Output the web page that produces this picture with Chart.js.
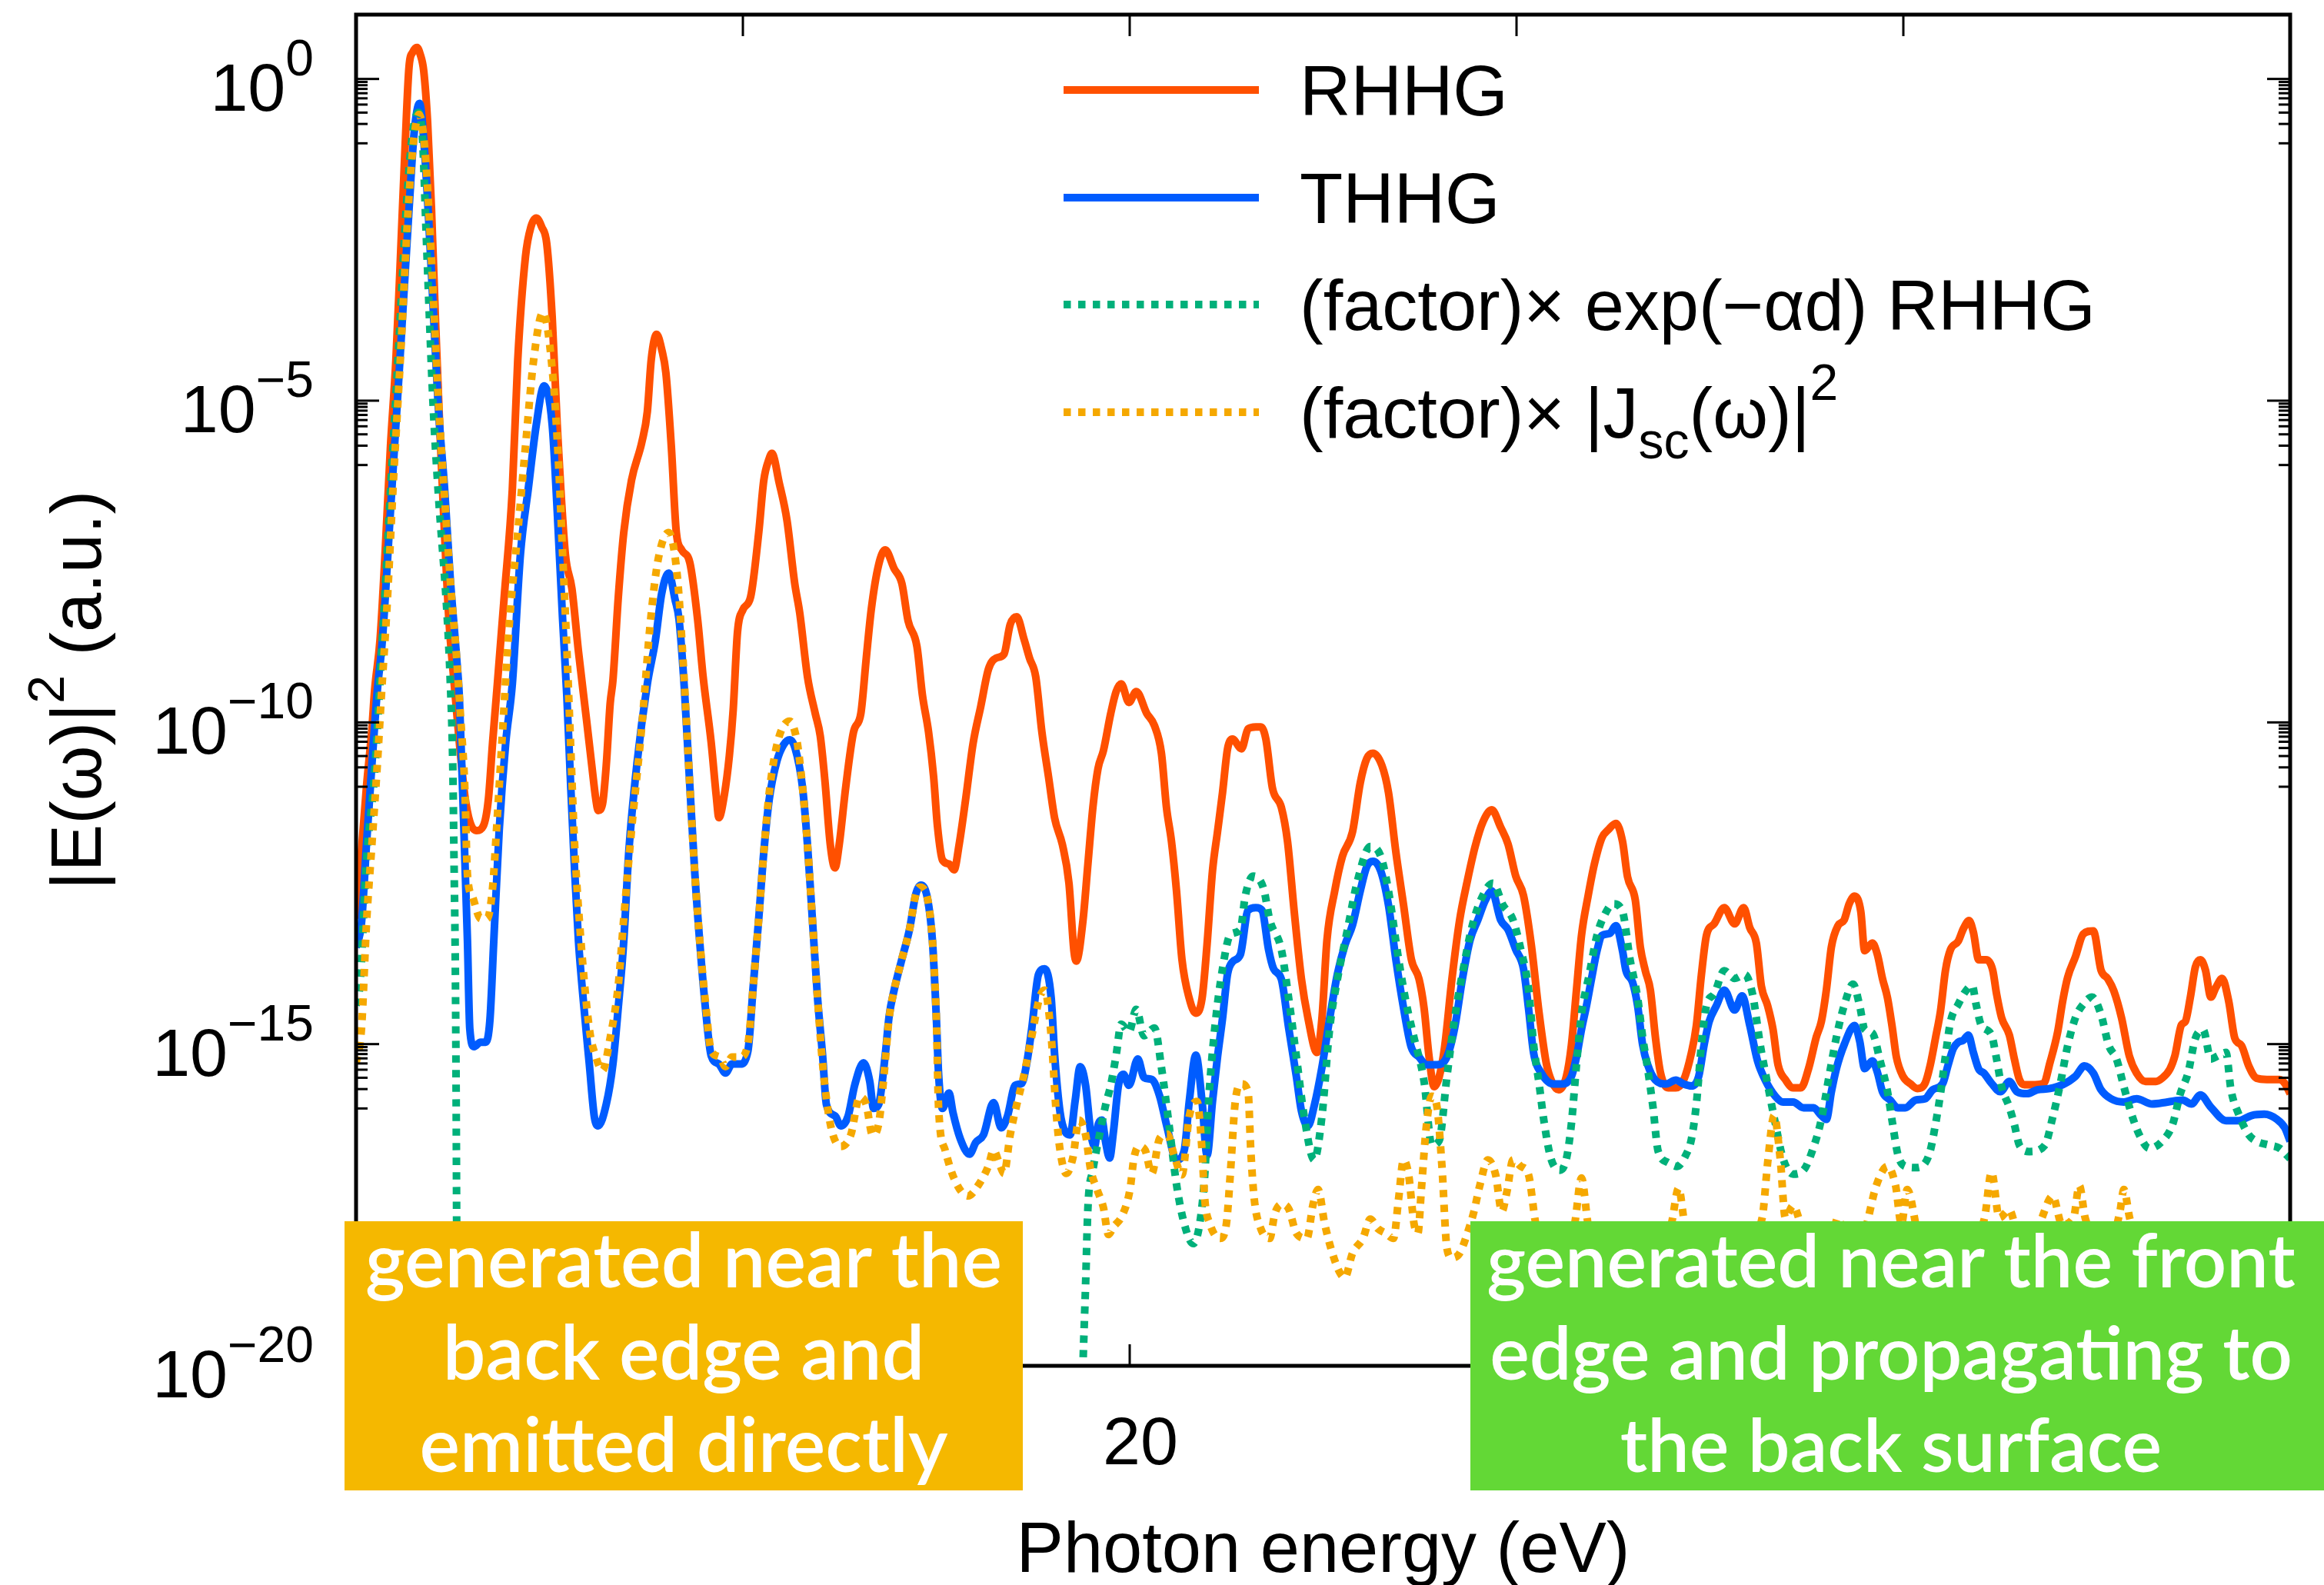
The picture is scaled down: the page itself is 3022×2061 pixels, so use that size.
<!DOCTYPE html>
<html><head><meta charset="utf-8">
<script src="https://cdn.jsdelivr.net/npm/chart.js@4.4.1/dist/chart.umd.min.js"></script>
<style>html,body{margin:0;padding:0;background:#fff;overflow:hidden}canvas{display:block}</style>
</head><body>
<canvas id="c" width="3022" height="2061" style="width:3022px;height:2061px"></canvas>
<script>
// ---- DATA: [photon energy (eV), log10 |E(w)|^2 (a.u.)] ----
const rhhgPoints = [[0,-13.05],[0.14,-12.0],[0.27,-11.0],[0.41,-10.1],[0.48,-9.5],[0.62,-8.72],[0.75,-7.38],[0.89,-5.71],[1.03,-4.37],[1.13,-3.03],[1.27,-1.02],[1.37,0.19],[1.47,0.42],[1.575,0.49],[1.66,0.38],[1.75,0.12],[1.85,-0.68],[1.95,-2.02],[2.05,-3.7],[2.16,-5.37],[2.26,-6.71],[2.40,-8.4],[2.53,-9.35],[2.67,-10.31],[2.81,-11.13],[2.94,-11.54],[3.12,-11.68],[3.29,-11.61],[3.42,-11.2],[3.53,-10.31],[3.66,-9.35],[3.83,-8.05],[4.04,-6.38],[4.18,-4.37],[4.38,-2.76],[4.52,-2.3],[4.66,-2.16],[4.80,-2.3],[4.93,-2.56],[5.07,-3.7],[5.20,-5.37],[5.41,-7.38],[5.58,-7.92],[5.75,-8.9],[5.96,-9.97],[6.09,-10.65],[6.20,-11.2],[6.26,-11.37],[6.37,-11.27],[6.47,-10.65],[6.57,-9.7],[6.64,-9.35],[6.78,-8.05],[6.92,-7.05],[7.12,-6.24],[7.39,-5.64],[7.53,-5.17],[7.63,-4.37],[7.77,-3.97],[7.90,-4.2],[8.01,-4.57],[8.15,-5.71],[8.28,-7.05],[8.42,-7.32],[8.63,-7.52],[8.83,-8.4],[8.97,-9.28],[9.18,-10.31],[9.31,-11.13],[9.38,-11.48],[9.52,-11.13],[9.65,-10.52],[9.75,-9.8],[9.86,-8.6],[10.0,-8.25],[10.2,-8.05],[10.41,-7.05],[10.54,-6.24],[10.68,-5.9],[10.75,-5.82],[10.94,-6.28],[11.14,-6.86],[11.34,-7.84],[11.47,-8.3],[11.67,-9.29],[11.87,-9.86],[12.0,-10.21],[12.12,-10.9],[12.26,-11.9],[12.38,-12.26],[12.49,-11.9],[12.66,-11.0],[12.86,-10.15],[13.05,-9.86],[13.19,-9.0],[13.32,-8.24],[13.51,-7.55],[13.68,-7.32],[13.91,-7.61],[14.11,-7.84],[14.27,-8.42],[14.50,-8.82],[14.64,-9.57],[14.80,-10.15],[14.93,-10.84],[15.03,-11.61],[15.16,-12.14],[15.33,-12.2],[15.46,-12.29],[15.59,-11.9],[15.76,-11.19],[15.95,-10.33],[16.15,-9.75],[16.35,-9.17],[16.55,-9.0],[16.75,-8.94],[16.91,-8.48],[17.08,-8.36],[17.27,-8.71],[17.41,-9.0],[17.57,-9.29],[17.73,-10.15],[17.90,-10.84],[18.06,-11.49],[18.26,-11.9],[18.43,-12.5],[18.56,-13.56],[18.62,-13.71],[18.79,-13.09],[18.92,-12.2],[19.05,-11.31],[19.18,-10.72],[19.32,-10.44],[19.51,-9.86],[19.65,-9.52],[19.78,-9.4],[19.98,-9.69],[20.17,-9.52],[20.44,-9.86],[20.64,-10.05],[20.82,-10.48],[20.95,-11.32],[21.08,-11.85],[21.21,-12.62],[21.35,-13.68],[21.54,-14.29],[21.71,-14.52],[21.87,-14.29],[22.00,-13.45],[22.14,-12.31],[22.27,-11.70],[22.40,-11.09],[22.53,-10.41],[22.66,-10.26],[22.89,-10.41],[23.06,-10.10],[23.26,-10.07],[23.39,-10.07],[23.52,-10.26],[23.69,-11.02],[23.92,-11.32],[24.08,-11.85],[24.25,-12.92],[24.44,-13.99],[24.61,-14.60],[24.84,-15.13],[24.97,-14.60],[25.10,-13.38],[25.30,-12.62],[25.50,-12.08],[25.76,-11.70],[25.96,-10.94],[26.13,-10.56],[26.29,-10.48],[26.52,-10.67],[26.69,-11.09],[26.88,-12.01],[27.08,-12.84],[27.28,-13.68],[27.48,-13.99],[27.61,-14.44],[27.74,-15.20],[27.87,-15.66],[28.00,-15.51],[28.14,-15.05],[28.33,-13.99],[28.53,-13.07],[28.73,-12.46],[28.93,-11.93],[29.13,-11.55],[29.36,-11.36],[29.59,-11.63],[29.78,-11.89],[29.98,-12.39],[30.18,-12.69],[30.38,-13.45],[30.58,-14.5],[30.77,-15.3],[30.91,-15.58],[31.09,-15.71],[31.29,-15.50],[31.42,-15.01],[31.55,-14.16],[31.68,-13.31],[31.85,-12.70],[32.01,-12.21],[32.21,-11.79],[32.37,-11.67],[32.57,-11.57],[32.74,-11.85],[32.87,-12.40],[33.07,-12.76],[33.20,-13.49],[33.33,-13.86],[33.46,-14.16],[33.59,-14.89],[33.72,-15.44],[33.92,-15.68],[34.12,-15.68],[34.32,-15.56],[34.52,-15.14],[34.65,-14.71],[34.78,-13.92],[34.91,-13.31],[35.11,-13.13],[35.37,-12.88],[35.64,-13.13],[35.87,-12.88],[36.03,-13.19],[36.20,-13.43],[36.33,-14.10],[36.49,-14.40],[36.63,-14.77],[36.76,-15.32],[36.96,-15.56],[37.15,-15.68],[37.35,-15.68],[37.55,-15.38],[37.75,-14.89],[37.88,-14.65],[38.01,-14.16],[38.14,-13.49],[38.31,-13.16],[38.47,-13.07],[38.60,-12.82],[38.74,-12.70],[38.90,-12.94],[39.00,-13.55],[39.20,-13.43],[39.33,-13.61],[39.46,-13.98],[39.59,-14.28],[39.72,-14.77],[39.82,-15.20],[39.99,-15.50],[40.19,-15.62],[40.36,-15.69],[40.56,-15.61],[40.69,-15.34],[40.83,-14.91],[40.96,-14.49],[41.09,-13.85],[41.22,-13.53],[41.42,-13.40],[41.55,-13.21],[41.70,-13.08],[41.81,-13.26],[41.95,-13.69],[42.14,-13.69],[42.31,-13.85],[42.41,-14.22],[42.54,-14.59],[42.74,-14.86],[42.87,-15.23],[43.00,-15.55],[43.13,-15.63],[43.40,-15.63],[43.63,-15.61],[43.79,-15.29],[43.99,-14.81],[44.12,-14.33],[44.25,-13.96],[44.45,-13.64],[44.65,-13.29],[44.91,-13.24],[45.11,-13.85],[45.28,-13.98],[45.44,-14.17],[45.64,-14.59],[45.84,-15.18],[46.03,-15.45],[46.26,-15.58],[46.53,-15.58],[46.69,-15.53],[46.89,-15.39],[47.02,-15.18],[47.19,-14.70],[47.29,-14.65],[47.42,-14.27],[47.55,-13.80],[47.68,-13.69],[47.81,-13.85],[47.95,-14.27],[48.08,-14.12],[48.24,-13.98],[48.41,-14.33],[48.57,-14.91],[48.74,-15.02],[48.93,-15.34],[49.13,-15.53],[49.40,-15.55],[49.73,-15.55],[49.86,-15.61],[50.0,-15.77]];

const thhgPoints = [[0,-13.5],[0.14,-13.12],[0.27,-11.89],[0.41,-10.65],[0.55,-9.5],[0.68,-8.72],[0.89,-6.71],[1.10,-4.7],[1.37,-2.02],[1.50,-0.85],[1.64,-0.38],[1.78,-1.2],[1.95,-3.03],[2.12,-5.04],[2.29,-6.38],[2.43,-7.72],[2.60,-9.0],[2.67,-9.6],[2.77,-11.34],[2.88,-13.4],[2.94,-14.76],[3.05,-15.04],[3.22,-14.97],[3.35,-14.97],[3.46,-14.63],[3.56,-13.4],[3.70,-11.68],[3.87,-10.31],[4.04,-9.4],[4.25,-7.38],[4.45,-6.38],[4.66,-5.37],[4.86,-4.77],[5.07,-5.37],[5.20,-6.71],[5.34,-8.4],[5.45,-9.6],[5.55,-11.0],[5.65,-12.3],[5.75,-13.4],[5.89,-14.42],[6.03,-15.31],[6.16,-16.13],[6.26,-16.27],[6.47,-15.93],[6.64,-15.31],[6.78,-14.42],[6.92,-13.4],[7.05,-12.02],[7.26,-10.65],[7.53,-9.4],[7.74,-8.72],[7.90,-8.0],[8.08,-7.68],[8.25,-8.1],[8.35,-8.4],[8.49,-9.5],[8.63,-11.0],[8.76,-12.37],[8.90,-13.53],[9.04,-14.49],[9.18,-15.18],[9.38,-15.31],[9.55,-15.45],[9.72,-15.31],[9.93,-15.31],[10.13,-15.11],[10.27,-14.08],[10.41,-13.05],[10.54,-12.02],[10.68,-11.2],[10.88,-10.6],[11.05,-10.35],[11.21,-10.27],[11.35,-10.4],[11.54,-11.0],[11.67,-11.9],[11.80,-13.09],[11.93,-14.28],[12.06,-15.17],[12.16,-15.94],[12.39,-16.12],[12.53,-16.27],[12.72,-16.12],[12.89,-15.64],[13.12,-15.29],[13.28,-15.58],[13.38,-16.0],[13.51,-15.94],[13.68,-15.17],[13.78,-14.57],[13.91,-14.16],[14.11,-13.68],[14.31,-13.21],[14.47,-12.67],[14.60,-12.53],[14.77,-12.73],[14.90,-13.39],[15.0,-14.57],[15.06,-15.47],[15.16,-16.0],[15.33,-15.76],[15.43,-16.06],[15.62,-16.47],[15.86,-16.71],[16.02,-16.53],[16.22,-16.41],[16.48,-15.91],[16.68,-16.3],[16.84,-16.12],[17.04,-15.64],[17.21,-15.61],[17.34,-15.29],[17.47,-14.75],[17.64,-13.92],[17.80,-13.83],[17.97,-14.28],[18.06,-15.17],[18.20,-16.06],[18.33,-16.36],[18.46,-16.41],[18.59,-15.88],[18.72,-15.35],[18.86,-15.64],[18.99,-16.36],[19.09,-16.59],[19.19,-16.24],[19.28,-16.18],[19.38,-16.53],[19.48,-16.77],[19.58,-16.36],[19.71,-15.64],[19.84,-15.47],[19.98,-15.64],[20.21,-15.23],[20.37,-15.52],[20.57,-15.55],[20.77,-15.8],[20.97,-16.3],[21.21,-16.80],[21.41,-16.65],[21.54,-15.89],[21.71,-15.17],[21.87,-15.89],[22.0,-16.73],[22.14,-15.89],[22.27,-15.20],[22.40,-14.60],[22.53,-13.91],[22.66,-13.72],[22.86,-13.61],[23.06,-12.92],[23.26,-12.88],[23.42,-12.92],[23.59,-13.53],[23.72,-13.83],[23.92,-13.99],[24.11,-14.75],[24.31,-15.51],[24.44,-16.04],[24.61,-16.27],[24.77,-15.96],[24.97,-15.36],[25.17,-14.60],[25.37,-13.91],[25.57,-13.45],[25.76,-13.15],[25.96,-12.62],[26.13,-12.24],[26.29,-12.16],[26.49,-12.31],[26.69,-12.84],[26.88,-13.68],[27.08,-14.44],[27.28,-15.05],[27.48,-15.20],[27.67,-15.32],[27.94,-15.32],[28.20,-15.20],[28.40,-14.75],[28.60,-13.99],[28.80,-13.38],[29.0,-13.07],[29.19,-12.77],[29.36,-12.62],[29.59,-13.07],[29.78,-13.22],[29.98,-13.53],[30.18,-13.83],[30.31,-14.44],[30.44,-15.13],[30.64,-15.45],[30.96,-15.62],[31.15,-15.62],[31.42,-15.50],[31.55,-15.20],[31.68,-14.77],[31.81,-14.40],[31.94,-13.98],[32.08,-13.55],[32.21,-13.31],[32.41,-13.28],[32.57,-13.16],[32.74,-13.55],[32.83,-13.86],[33.0,-14.04],[33.13,-14.40],[33.26,-15.01],[33.39,-15.32],[33.59,-15.56],[33.86,-15.62],[34.12,-15.56],[34.32,-15.62],[34.52,-15.65],[34.71,-15.50],[34.85,-15.01],[34.98,-14.65],[35.17,-14.40],[35.37,-14.16],[35.64,-14.47],[35.83,-14.25],[36.03,-14.71],[36.23,-15.26],[36.43,-15.56],[36.69,-15.81],[36.89,-15.90],[37.15,-15.90],[37.42,-15.99],[37.68,-15.99],[37.88,-16.11],[38.01,-16.17],[38.14,-15.74],[38.27,-15.38],[38.47,-15.01],[38.74,-14.71],[38.87,-14.95],[39.0,-15.38],[39.20,-15.26],[39.33,-15.44],[39.46,-15.74],[39.66,-15.87],[39.86,-15.99],[40.05,-15.99],[40.32,-15.87],[40.56,-15.85],[40.76,-15.71],[41.02,-15.61],[41.15,-15.34],[41.29,-15.07],[41.42,-14.97],[41.55,-14.94],[41.68,-14.86],[41.81,-15.13],[41.95,-15.39],[42.08,-15.45],[42.28,-15.61],[42.51,-15.74],[42.74,-15.58],[42.94,-15.74],[43.20,-15.77],[43.46,-15.71],[43.79,-15.69],[44.12,-15.63],[44.45,-15.50],[44.68,-15.34],[44.91,-15.45],[45.11,-15.71],[45.37,-15.85],[45.70,-15.90],[46.03,-15.85],[46.43,-15.93],[46.83,-15.90],[47.22,-15.87],[47.45,-15.93],[47.68,-15.79],[47.95,-15.98],[48.34,-16.19],[48.67,-16.19],[49.0,-16.11],[49.33,-16.09],[49.66,-16.17],[49.86,-16.30],[50.0,-16.51]];

const attenuatedPoints = [[0,-14.4],[0.10,-14.08],[0.27,-12.16],[0.48,-10.79],[0.70,-8.5],[0.90,-6.3],[1.10,-4.2],[1.30,-2.0],[1.45,-0.9],[1.61,-0.52],[1.72,-0.95],[1.81,-2.36],[1.99,-5.04],[2.12,-6.38],[2.36,-8.4],[2.43,-9.28],[2.50,-10.65],[2.53,-12.02],[2.57,-14.08],[2.59,-16.13],[2.60,-17.71],[2.61,-19.5],[2.62,-22],[18.70,-22],[18.79,-20.02],[18.86,-18.73],[18.92,-17.54],[19.05,-16.95],[19.22,-16.41],[19.38,-15.94],[19.51,-15.64],[19.65,-15.17],[19.78,-14.69],[19.98,-14.81],[20.17,-14.46],[20.37,-14.87],[20.64,-14.75],[20.82,-15.36],[21.02,-16.27],[21.21,-17.18],[21.41,-17.79],[21.64,-18.10],[21.81,-17.79],[21.94,-17.03],[22.04,-15.89],[22.20,-14.75],[22.40,-13.83],[22.60,-13.30],[22.86,-13.22],[22.99,-12.69],[23.19,-12.39],[23.46,-12.58],[23.62,-13.07],[23.92,-13.53],[24.11,-14.29],[24.31,-15.20],[24.51,-16.12],[24.77,-16.80],[24.97,-16.12],[25.17,-14.75],[25.37,-13.99],[25.63,-13.22],[25.89,-12.46],[26.22,-11.93],[26.49,-12.08],[26.69,-12.62],[26.95,-13.68],[27.15,-14.37],[27.35,-14.9],[27.61,-15.58],[27.81,-16.57],[28.0,-16.50],[28.20,-15.51],[28.40,-14.60],[28.60,-13.91],[28.86,-13.15],[29.13,-12.69],[29.39,-12.50],[29.65,-12.84],[29.91,-13.07],[30.11,-13.53],[30.31,-14.14],[30.44,-15.0],[30.58,-15.6],[30.71,-16.2],[30.89,-16.78],[31.12,-16.96],[31.29,-16.78],[31.42,-16.23],[31.55,-15.32],[31.68,-14.53],[31.88,-13.92],[32.08,-13.31],[32.27,-13.00],[32.50,-12.82],[32.74,-12.94],[32.93,-13.67],[33.13,-14.28],[33.26,-14.89],[33.39,-15.38],[33.53,-15.99],[33.66,-16.66],[33.92,-16.84],[34.15,-16.90],[34.38,-16.72],[34.52,-16.48],[34.65,-15.93],[34.78,-15.01],[34.91,-14.40],[35.11,-14.22],[35.37,-13.86],[35.64,-13.98],[35.90,-13.92],[36.10,-14.22],[36.30,-15.01],[36.49,-15.62],[36.69,-16.23],[36.89,-16.78],[37.15,-17.02],[37.42,-16.96],[37.68,-16.60],[37.88,-16.17],[38.08,-15.50],[38.27,-14.89],[38.47,-14.40],[38.70,-14.07],[38.87,-14.40],[39.0,-14.77],[39.20,-14.83],[39.40,-15.26],[39.59,-15.74],[39.72,-16.23],[39.86,-16.72],[40.05,-16.90],[40.32,-16.92],[40.50,-16.89],[40.69,-16.67],[40.83,-16.25],[40.96,-15.77],[41.09,-15.18],[41.22,-14.65],[41.42,-14.38],[41.62,-14.17],[41.78,-14.09],[41.88,-14.38],[42.01,-14.70],[42.28,-14.86],[42.41,-15.23],[42.54,-15.66],[42.74,-15.98],[42.87,-16.25],[43.0,-16.57],[43.26,-16.67],[43.66,-16.57],[43.86,-16.14],[44.06,-15.61],[44.25,-15.02],[44.45,-14.59],[44.65,-14.38],[44.88,-14.27],[45.11,-14.54],[45.31,-15.02],[45.51,-15.23],[45.70,-15.66],[45.90,-16.09],[46.10,-16.41],[46.36,-16.62],[46.69,-16.51],[46.96,-16.25],[47.16,-15.77],[47.36,-15.45],[47.55,-14.91],[47.75,-14.78],[47.95,-15.23],[48.14,-15.18],[48.34,-15.13],[48.47,-15.71],[48.67,-16.09],[48.93,-16.41],[49.13,-16.51],[49.46,-16.57],[49.73,-16.62],[49.92,-16.73],[50.0,-16.78]];

const jscPoints = [[0,-15.3],[0.14,-14.76],[0.27,-13.12],[0.41,-11.89],[0.55,-10.65],[0.65,-9.63],[0.80,-8.2],[0.97,-6.2],[1.15,-4.3],[1.35,-2.0],[1.50,-0.9],[1.63,-0.55],[1.78,-1.1],[1.95,-2.8],[2.12,-4.9],[2.30,-6.6],[2.45,-7.9],[2.60,-9.0],[2.70,-9.9],[2.81,-11.0],[2.88,-12.37],[3.01,-12.71],[3.22,-13.05],[3.39,-13.05],[3.53,-12.57],[3.63,-11.68],[3.77,-10.31],[3.97,-8.4],[4.18,-7.05],[4.38,-5.71],[4.59,-4.37],[4.83,-3.63],[5.10,-4.7],[5.24,-6.04],[5.34,-7.38],[5.44,-8.72],[5.55,-10.4],[5.65,-11.9],[5.80,-13.3],[6.03,-14.76],[6.20,-15.2],[6.37,-15.41],[6.57,-14.9],[6.78,-14.08],[6.92,-13.05],[7.12,-11.68],[7.40,-9.97],[7.60,-8.5],[7.80,-7.5],[8.08,-7.05],[8.30,-7.7],[8.45,-9.0],[8.63,-11.0],[8.76,-12.37],[8.90,-13.5],[9.04,-14.4],[9.18,-15.1],[9.40,-15.2],[9.55,-15.35],[9.72,-15.2],[9.93,-15.2],[10.13,-15.0],[10.27,-14.08],[10.41,-13.05],[10.54,-12.02],[10.68,-11.1],[10.90,-10.3],[11.21,-9.98],[11.40,-10.3],[11.54,-11.0],[11.67,-11.9],[11.80,-13.09],[11.93,-14.28],[12.06,-15.3],[12.26,-16.24],[12.53,-16.59],[12.79,-16.41],[13.02,-15.82],[13.19,-15.94],[13.35,-16.41],[13.51,-16.24],[13.65,-15.47],[13.78,-14.6],[13.91,-14.16],[14.11,-13.68],[14.31,-13.21],[14.47,-12.67],[14.57,-12.56],[14.77,-12.73],[14.90,-13.39],[15.0,-14.57],[15.06,-16.0],[15.23,-16.65],[15.49,-17.13],[15.82,-17.36],[16.09,-17.19],[16.35,-16.89],[16.48,-16.65],[16.65,-16.89],[16.75,-17.01],[16.91,-16.41],[17.08,-15.94],[17.27,-15.47],[17.47,-14.87],[17.67,-14.28],[17.80,-14.16],[17.97,-14.87],[18.10,-16.06],[18.20,-16.65],[18.36,-17.01],[18.53,-16.77],[18.69,-16.18],[18.86,-16.41],[18.99,-16.95],[19.15,-17.25],[19.32,-17.54],[19.45,-17.96],[19.58,-17.84],[19.81,-17.66],[20.01,-17.25],[20.11,-16.77],[20.24,-16.59],[20.40,-16.65],[20.57,-17.01],[20.77,-16.47],[20.97,-16.4],[21.15,-16.73],[21.35,-17.03],[21.54,-16.12],[21.74,-15.89],[21.87,-16.65],[21.94,-17.41],[22.07,-17.79],[22.34,-18.02],[22.50,-17.79],[22.60,-17.03],[22.73,-15.89],[22.89,-15.62],[23.06,-15.74],[23.13,-16.65],[23.22,-17.41],[23.39,-17.87],[23.62,-18.02],[23.75,-17.64],[23.92,-17.49],[24.11,-17.56],[24.31,-17.94],[24.58,-18.02],[24.74,-17.49],[24.87,-17.26],[25.04,-17.79],[25.24,-18.25],[25.43,-18.55],[25.56,-18.63],[25.76,-18.25],[26.03,-18.02],[26.22,-17.72],[26.42,-17.87],[26.62,-17.94],[26.82,-18.02],[26.95,-17.41],[27.08,-16.80],[27.21,-17.03],[27.35,-17.79],[27.45,-17.94],[27.54,-17.26],[27.67,-16.27],[27.81,-15.81],[27.94,-15.96],[28.07,-16.88],[28.20,-18.17],[28.33,-18.32],[28.53,-18.25],[28.73,-17.94],[28.90,-17.6],[29.05,-17.2],[29.26,-16.80],[29.46,-17.03],[29.62,-17.6],[29.75,-17.3],[29.91,-16.80],[30.11,-16.9],[30.31,-17.03],[30.50,-17.8],[30.80,-18.3],[31.2,-18.2],[31.50,-17.8],[31.68,-17.08],[31.85,-17.8],[32.2,-18.4],[32.6,-18.3],[33.0,-18.5],[33.5,-18.2],[34.0,-17.8],[34.19,-17.24],[34.35,-17.8],[34.8,-18.3],[35.3,-18.4],[35.8,-18.2],[36.35,-17.7],[36.5,-16.8],[36.66,-16.11],[36.82,-16.8],[36.95,-17.7],[37.15,-17.51],[37.35,-17.8],[37.7,-18.3],[38.2,-17.9],[38.3,-17.7],[38.6,-18.2],[39.0,-17.9],[39.30,-17.2],[39.59,-16.90],[39.80,-17.2],[39.95,-17.8],[40.10,-17.26],[40.4,-18.0],[41.0,-18.4],[41.6,-18.2],[42.1,-17.7],[42.28,-16.99],[42.48,-17.7],[42.74,-17.58],[43.0,-18.0],[43.5,-17.8],[43.86,-17.36],[44.1,-17.8],[44.4,-17.7],[44.55,-17.20],[44.70,-17.7],[45.3,-18.2],[45.60,-17.6],[45.70,-17.26],[45.85,-17.7],[46.2,-18.4],[47.0,-18.6],[48.0,-18.3],[49.0,-18.6],[50.0,-18.5]];

const seriesNames = ['RHHG', 'THHG', '(factor)× exp(−αd) RHHG', '(factor)× |Jsc(ω)|2'];
const xTickValues = [0, 10, 20, 30, 40, 50];
const yLabelExponents = [0, -5, -10, -15, -20];
const xTitle = 'Photon energy (eV)';
const boxTextLeft = ['generated near the', 'back edge and', 'emitted directly'];
const boxTextRight = ['generated near the front', 'edge and propagating to', 'the back surface'];

// ---- build ----
const toXY = pts => pts.map(p => ({x: p[0], y: Math.pow(10, p[1])}));
const FONT = '"Liberation Sans", Arial, Helvetica, sans-serif';
const BOXFONT = 'Lato, "Noto Sans", sans-serif';

function drawRuns(ctx, runs, x, y, measureOnly) {
  let cx = x;
  for (const r of runs) {
    ctx.font = r.size + 'px ' + FONT;
    if (!measureOnly) ctx.fillText(r.t, cx, y + (r.dy || 0));
    cx += ctx.measureText(r.t).width;
  }
  return cx - x;
}
function seg(ctx, x1, y1, x2, y2) { ctx.beginPath(); ctx.moveTo(x1, y1); ctx.lineTo(x2, y2); ctx.stroke(); }

const overlay = {
  id: 'overlay',
  afterDatasetsDraw(chart) {
    const ctx = chart.ctx, a = chart.chartArea, xs = chart.scales.x, ys = chart.scales.y;
    ctx.save();
    ctx.setLineDash([]);
    ctx.strokeStyle = '#000'; ctx.fillStyle = '#000';
    // frame
    ctx.lineWidth = 5;
    ctx.strokeRect(a.left, a.top, a.right - a.left, a.bottom - a.top);
    // ticks
    ctx.lineWidth = 3;
    xTickValues.forEach(v => {
      const px = xs.getPixelForValue(v);
      seg(ctx, px, a.bottom, px, a.bottom - 28);
      seg(ctx, px, a.top, px, a.top + 28);
    });
    yLabelExponents.forEach(e => {
      const py = ys.getPixelForValue(Math.pow(10, e));
      seg(ctx, a.left, py, a.left + 30, py);
      seg(ctx, a.right, py, a.right - 30, py);
      if (e > -20) {
        for (let k = 1; k <= 9; k++) {
          const pm = ys.getPixelForValue(k * Math.pow(10, e - 1));
          seg(ctx, a.left, pm, a.left + 15, pm);
          seg(ctx, a.right, pm, a.right - 15, pm);
        }
      }
    });
    // y tick labels
    ctx.textAlign = 'left'; ctx.textBaseline = 'alphabetic';
    yLabelExponents.forEach(e => {
      const py = ys.getPixelForValue(Math.pow(10, e));
      const sup = e === 0 ? '0' : '\u2212' + Math.abs(e);
      ctx.font = '66px ' + FONT;
      const sw = ctx.measureText(sup).width;
      ctx.font = '88px ' + FONT;
      const bw = ctx.measureText('10').width;
      const right = 408;
      ctx.fillText('10', right - sw - bw, py + 41);
      ctx.font = '66px ' + FONT;
      ctx.fillText(sup, right - sw, py - 5);
    });
    // x tick labels
    ctx.textAlign = 'center';
    ctx.font = '88px ' + FONT;
    xTickValues.forEach(v => {
      ctx.fillText(String(v), xs.getPixelForValue(v) + 14, 1904);
    });
    // x title
    ctx.font = '92px ' + FONT;
    ctx.fillText(xTitle, (a.left + a.right) / 2, 2044);
    // y title (rotated)
    ctx.textAlign = 'left';
    const yRuns = [{t: '|E(ω)|', size: 92}, {t: '2', size: 66, dy: -48}, {t: ' (a.u.)', size: 92}];
    ctx.save();
    ctx.translate(131, (a.top + a.bottom) / 2);
    ctx.rotate(-Math.PI / 2);
    const tw = drawRuns(ctx, yRuns, 0, 0, true);
    drawRuns(ctx, yRuns, -tw / 2, 0);
    ctx.restore();
    // legend
    const legendY = [117, 257, 396, 536];
    chart.data.datasets.forEach((ds, i) => {
      const ly = legendY[i];
      ctx.save();
      ctx.strokeStyle = ds.borderColor; ctx.lineWidth = ds.borderWidth;
      ctx.lineCap = 'butt';
      ctx.setLineDash(ds.borderDash || []);
      seg(ctx, 1383, ly, 1637, ly);
      ctx.restore();
      ctx.fillStyle = '#000';
      let runs;
      if (i < 3) runs = [{t: seriesNames[i], size: 92}];
      else runs = [{t: '(factor)× |J', size: 92}, {t: 'sc', size: 66, dy: 27}, {t: '(ω)|', size: 92}, {t: '2', size: 66, dy: -49}];
      drawRuns(ctx, runs, 1690, ly + 33);
    });
    // annotation boxes
    const boxes = [
      {x: 448, y: 1588, w: 882, h: 350, color: '#F5B800', lines: boxTextLeft, cx: 889, target: 828},
      {x: 1912, y: 1588, w: 1110, h: 350, color: '#63D836', lines: boxTextRight, cx: 2459, target: 1052}
    ];
    boxes.forEach(b => {
      ctx.fillStyle = b.color;
      ctx.fillRect(b.x, b.y, b.w, b.h);
      ctx.font = '600 100px ' + BOXFONT;
      const w100 = ctx.measureText(b.lines[0]).width;
      const size = 100 * b.target / w100;
      ctx.font = '600 ' + size.toFixed(1) + 'px ' + BOXFONT;
      ctx.fillStyle = '#fff';
      ctx.textAlign = 'center';
      [1674, 1794, 1914].forEach((by, j) => ctx.fillText(b.lines[j], b.cx, by));
    });
    ctx.restore();
  }
};

const common = {pointRadius: 0, borderWidth: 10, fill: false, cubicInterpolationMode: 'monotone', clip: 0, borderCapStyle: 'butt', borderJoinStyle: 'round'};
new Chart(document.getElementById('c').getContext('2d'), {
  type: 'line',
  data: {
    datasets: [
      Object.assign({label: seriesNames[0], data: toXY(rhhgPoints), borderColor: '#FF5000', order: 4}, common),
      Object.assign({label: seriesNames[1], data: toXY(thhgPoints), borderColor: '#005CFF', order: 3}, common),
      Object.assign({label: seriesNames[2], data: toXY(attenuatedPoints), borderColor: '#00B07A', borderDash: [9.5, 9.5], order: 2}, common),
      Object.assign({label: seriesNames[3], data: toXY(jscPoints), borderColor: '#F5A800', borderDash: [9.5, 9.5], order: 1}, common)
    ]
  },
  options: {
    responsive: false, animation: false, devicePixelRatio: 1,
    layout: {padding: {top: 19, right: 44, left: 0, bottom: 0}},
    plugins: {legend: {display: false}, tooltip: {enabled: false}},
    scales: {
      x: {type: 'linear', min: 0, max: 50, grid: {display: false}, border: {display: false}, ticks: {display: false},
          afterFit(s) { s.height = 285; }},
      y: {type: 'logarithmic', min: 1e-20, max: 10, grid: {display: false}, border: {display: false}, ticks: {display: false},
          afterFit(s) { s.width = 463; }}
    }
  },
  plugins: [overlay]
});
</script>
</body></html>
